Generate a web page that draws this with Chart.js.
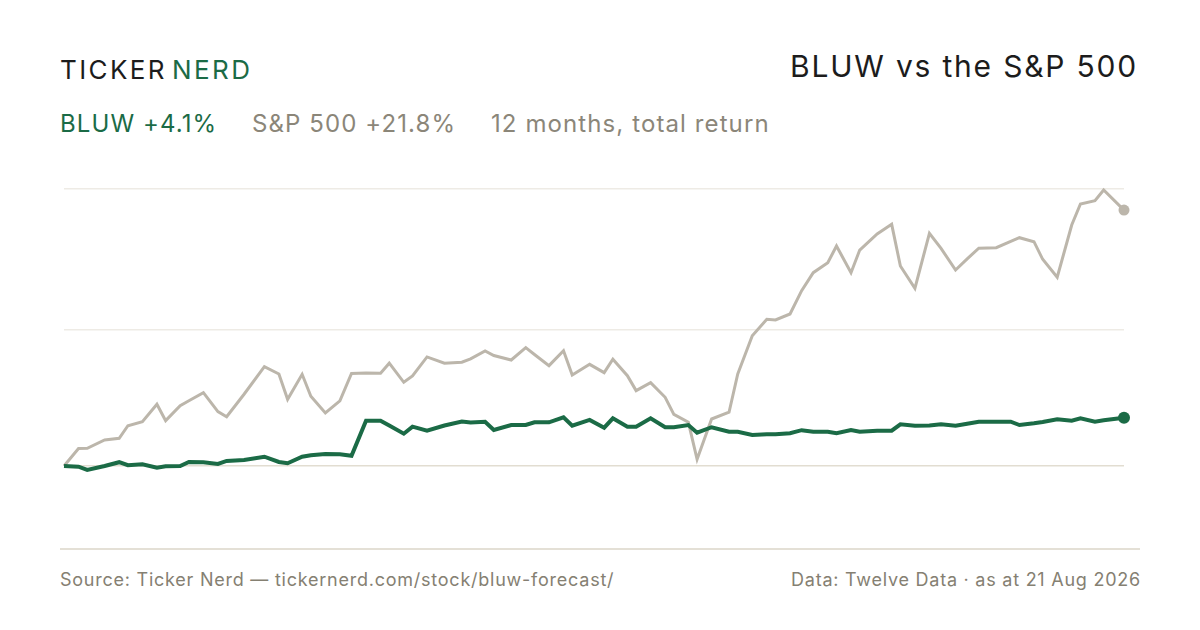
<!DOCTYPE html>
<html>
<head>
<meta charset="utf-8">
<script src="https://cdn.jsdelivr.net/npm/chart.js@4.4.1/dist/chart.umd.min.js"></script>
<style>
  html, body { margin: 0; padding: 0; background: #fff; }
  body { width: 1200px; height: 630px; position: relative; overflow: hidden; font-family: Inter, "Noto Sans", sans-serif; }
  .abs { position: absolute; white-space: nowrap; line-height: 1; }
  #logo { left: 60px; top: 57px; font-size: 26px; letter-spacing: 2.4px; color: #1c1c1c; }
  #logo span { color: #1b6b46; margin-left: 5px; }
  #title { right: 62px; top: 51px; font-size: 30px; letter-spacing: 1.8px; color: #1c1c1c; }
  .sub { top: 112px; font-size: 24px; letter-spacing: 1.1px; color: #8b8679; }
  #sep { position: absolute; left: 60px; top: 548px; width: 1080px; height: 2px; background: #e4e0d6; }
  .foot { top: 571px; font-size: 18px; letter-spacing: 0.76px; color: #858072; }
  #chartBox { position: absolute; left: 54px; top: 170px; width: 1080px; height: 370px; }
</style>
</head>
<body>
<div id="logo" class="abs">TICKER<span>NERD</span></div>
<div id="title" class="abs">BLUW vs the S&amp;P 500</div>
<div class="abs sub" style="left:60px;color:#1b6b46">BLUW +4.1%</div>
<div class="abs sub" style="left:252px">S&amp;P 500 +21.8%</div>
<div class="abs sub" style="left:491px">12 months, total return</div>
<div id="chartBox"><canvas id="perfChart"></canvas></div>
<div id="sep"></div>
<div class="abs foot" style="left:60px">Source: Ticker Nerd — tickernerd.com/stock/bluw-forecast/</div>
<div class="abs foot" style="right:59px">Data: Twelve Data · as at 21 Aug 2026</div>

<script>
// days since start of the 12-month window
const days = [0, 5, 8, 14, 19, 22, 27, 32, 35, 40,
  43, 48, 53, 56, 62, 69, 74, 77, 82, 85,
  90, 95, 99, 104, 109, 112, 117, 120, 125, 131,
  137, 140, 145, 148, 154, 159, 162, 167, 172, 175,
  181, 186, 189, 194, 197, 202, 207, 210, 215, 218,
  223, 229, 232, 237, 242, 245, 250, 254, 258, 263,
  266, 271, 274, 280, 285, 288, 293, 298, 302, 307,
  311, 315, 321, 326, 329, 334, 337, 342, 347, 350,
  355, 358, 365];

// cumulative total return, %
const bluw = [0, -0.06, -0.34, 0, 0.32, 0.06, 0.14, -0.14, -0.03, 0,
  0.34, 0.32, 0.17, 0.43, 0.51, 0.79, 0.34, 0.23, 0.79, 0.91,
  1.01, 1.0, 0.87, 3.86, 3.86, 3.45, 2.75, 3.35, 3.0, 3.45,
  3.79, 3.71, 3.77, 3.07, 3.49, 3.49, 3.72, 3.72, 4.15, 3.43,
  3.92, 3.26, 4.06, 3.35, 3.35, 4.06, 3.3, 3.3, 3.49, 2.84,
  3.3, 2.92, 2.92, 2.64, 2.7, 2.71, 2.79, 3.05, 2.92, 2.92,
  2.79, 3.07, 2.92, 3.01, 3.01, 3.55, 3.43, 3.45, 3.55, 3.43,
  3.6, 3.77, 3.77, 3.77, 3.49, 3.64, 3.75, 3.98, 3.86, 4.06,
  3.77, 3.89, 4.1];

const spx = [0, 1.49, 1.51, 2.22, 2.36, 3.43, 3.77, 5.26, 3.86, 5.14,
  5.56, 6.25, 4.63, 4.2, 6.11, 8.46, 7.84, 5.68, 7.81, 5.94,
  4.52, 5.54, 7.88, 7.92, 7.9, 8.76, 7.13, 7.67, 9.29, 8.75,
  8.84, 9.13, 9.8, 9.41, 9.03, 10.08, 9.5, 8.55, 9.82, 7.75,
  8.66, 7.95, 9.09, 7.69, 6.42, 7.1, 5.85, 4.4, 3.72, 0.57,
  4.0, 4.58, 7.84, 11.1, 12.5, 12.44, 12.95, 14.94, 16.47, 17.32,
  18.74, 16.47, 18.4, 19.77, 20.59, 17.04, 15.14, 19.83, 18.54, 16.7,
  17.64, 18.55, 18.6, 19.13, 19.45, 19.11, 17.61, 16.08, 20.53, 22.32,
  22.6, 23.52, 21.8];

// gridline positions, %
const yTicks = [0, 11.6, 23.6];

const GREEN = '#1b6b46';
const GREY = '#bcb6ab';

function toPoints(vals) {
    return vals.map((v, i) => ({ x: days[i], y: v }));
}

function lastDot(r) {
    return ctx => (ctx.dataIndex === ctx.dataset.data.length - 1 ? r : 0);
}

document.addEventListener('DOMContentLoaded', () => {
    const el = document.getElementById('perfChart');
    new Chart(el, {
        type: 'line',
        data: {
            datasets: [{
                label: 'BLUW',
                data: toPoints(bluw),
                borderColor: GREEN,
                backgroundColor: GREEN,
                borderWidth: 4,
                pointRadius: lastDot(6),
                pointBorderWidth: 0,
                pointHoverRadius: 0,
                tension: 0,
                clip: false
            }, {
                label: 'S&P 500',
                data: toPoints(spx),
                borderColor: GREY,
                backgroundColor: GREY,
                borderWidth: 3,
                pointRadius: lastDot(5.5),
                pointBorderWidth: 0,
                pointHoverRadius: 0,
                tension: 0,
                clip: false
            }]
        },
        options: {
            responsive: true,
            maintainAspectRatio: false,
            animation: false,
            events: [],
            layout: { padding: { left: 10, right: 10, top: 19, bottom: 40 } },
            plugins: { legend: { display: false }, tooltip: { enabled: false } },
            scales: {
                x: { type: 'linear', min: 0, max: 365, display: false },
                y: {
                    min: -2.9,
                    max: 23.6,
                    afterBuildTicks: axis => { axis.ticks = yTicks.map(v => ({ value: v })); },
                    ticks: { display: false },
                    border: { display: false },
                    grid: {
                        drawTicks: false,
                        lineWidth: 1.5,
                        color: c => (c.tick && c.tick.value === 0 ? '#e2ddd1' : '#eeebe5')
                    }
                }
            }
        }
    });
});
</script>
</body>
</html>
